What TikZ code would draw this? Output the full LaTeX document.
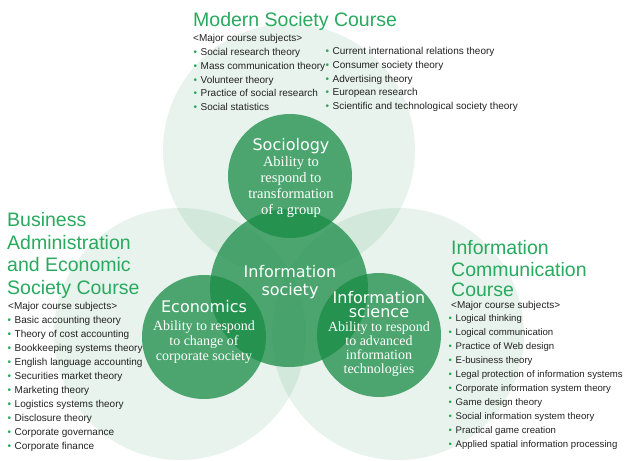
\documentclass[tikz,border=0pt]{standalone}
\usepackage{fontspec}
\setmainfont{Liberation Serif}
\setsansfont{Liberation Sans}
\newfontfamily\namefont{DejaVu Sans}
\definecolor{circgreen}{RGB}{25,140,70}
\definecolor{headgreen}{RGB}{40,170,95}
\definecolor{itemgray}{RGB}{35,35,35}
\newcommand{\subj}{\makebox[7pt][l]{\color{headgreen}\textbullet}}

\begin{document}
\begin{tikzpicture}[x=1pt,y=-1pt,
  palecirc/.style={circle,fill=circgreen,fill opacity=0.1,minimum size=252pt,inner sep=0pt},
  darkcirc/.style={circle,fill=circgreen,fill opacity=0.75,minimum size=124pt,inner sep=0pt},
  coursehead/.style={anchor=base west,inner sep=0pt,text=headgreen,font=\sffamily\fontsize{19.5}{22}\selectfont},
  subjhead/.style={anchor=west,inner sep=0pt,text=itemgray,font=\sffamily\fontsize{10}{14}\selectfont},
  subjlist/.style={anchor=west,align=left,inner sep=0pt,text=itemgray,font=\sffamily\fontsize{10}{14}\selectfont},
  fieldname/.style={align=center,inner sep=0pt,text=white,font=\namefont\fontsize{16}{15}\selectfont},
  ability/.style={align=center,inner sep=0pt,text=white,font=\rmfamily\fontsize{14}{15}\selectfont}]
\fill[white] (0,0) rectangle (625,461);
\useasboundingbox (0,0) rectangle (625,461);
\node[palecirc] (modring) at (289,150) {};
\node[palecirc] (busring) at (180,334) {};
\node[palecirc] (inforing) at (398,334) {};
\node[darkcirc] (sociology) at (290,176) {};
\node[darkcirc,minimum size=158pt] (society) at (289,288) {};
\node[darkcirc] (economics) at (204,337) {};
\node[darkcirc] (infosci) at (379,335) {};
\node[fieldname] (socname) at (291,146) {Sociology};
\node[ability,font=\rmfamily\fontsize{14.5}{16}\selectfont] (socdesc) at (291,187) {Ability to\\respond to\\transformation\\of a group};
\node[fieldname,font=\namefont\fontsize{16}{18}\selectfont] (societyname) at (290,282) {Information\\society};
\node[fieldname] (econname) at (204,307) {Economics};
\node[ability] (econdesc) at (204,342) {Ability to respond\\to change of\\corporate society};
\node[fieldname,font=\namefont\fontsize{16}{14.5}\selectfont] (sciname) at (379,304.5) {Information\\science};
\node[ability,font=\rmfamily\fontsize{14}{14}\selectfont] (scidesc) at (379,349) {Ability to respond\\to advanced\\information\\technologies};
\node[coursehead] (modhead) at (193,26) {Modern Society Course};
\node[subjhead] (modmajor) at (193,39) {\textless Major course subjects\textgreater};
\node[subjlist,font=\sffamily\fontsize{10}{13.75}\selectfont] (modlist) at (193.5,79.5) {\subj Social research theory\\\subj Mass communication theory\\\subj Volunteer theory\\\subj Practice of social research\\\subj Social statistics};
\node[subjlist,font=\sffamily\fontsize{10}{13.75}\selectfont] (modlistb) at (325.5,79.5) {\subj Current international relations theory\\\subj Consumer society theory\\\subj Advertising theory\\\subj European research\\\subj Scientific and technological society theory};
\node[coursehead] (bushead) at (7,226.5) {Business};
\node[coursehead] (busheadb) at (7,249) {Administration};
\node[coursehead] (busheadc) at (7,271.5) {and Economic};
\node[coursehead] (busheadd) at (7,294) {Society Course};
\node[subjhead] (busmajor) at (8,307) {\textless Major course subjects\textgreater};
\node[subjlist] (buslist) at (7.5,383.5) {\subj Basic accounting theory\\\subj Theory of cost accounting\\\subj Bookkeeping systems theory\\\subj English language accounting\\\subj Securities market theory\\\subj Marketing theory\\\subj Logistics systems theory\\\subj Disclosure theory\\\subj Corporate governance\\\subj Corporate finance};
\node[coursehead] (infohead) at (451,254) {Information};
\node[coursehead] (infoheadb) at (451,276) {Communication};
\node[coursehead] (infoheadc) at (451,296) {Course};
\node[subjhead] (infomajor) at (451,305.5) {\textless Major course subjects\textgreater};
\node[subjlist,font=\sffamily\fontsize{9.6}{14}\selectfont] (infolist) at (448.5,382.5) {\subj Logical thinking\\\subj Logical communication\\\subj Practice of Web design\\\subj E-business theory\\\subj Legal protection of information systems\\\subj Corporate information system theory\\\subj Game design theory\\\subj Social information system theory\\\subj Practical game creation\\\subj Applied spatial information processing};
\end{tikzpicture}
\end{document}
